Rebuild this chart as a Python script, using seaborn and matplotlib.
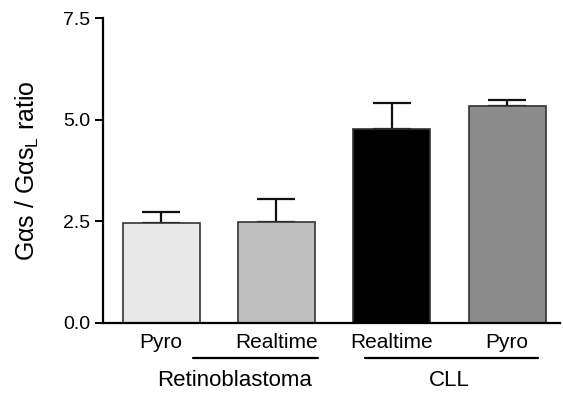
import pandas as pd
import numpy as np
import seaborn as sns
import matplotlib.pyplot as plt
import matplotlib.transforms as mtransforms

samples = ['rb_pyro', 'rb_realtime', 'cll_realtime', 'cll_pyro']
tick_labels = ['Pyro', 'Realtime', 'Realtime', 'Pyro']
ratio = [2.47, 2.49, 4.77, 5.34]
sem = [0.26, 0.56, 0.65, 0.16]
bar_colors = ['#e8e8e8', '#bfbfbf', '#000000', '#8c8c8c']
groups = ['Retinoblastoma', 'CLL']
group_span = [(0.28, 1.36), (1.77, 3.27)]
group_center = [0.64, 2.5]

sns.set_theme(style="ticks")
plt.rcParams['font.family'] = ['Liberation Sans', 'DejaVu Sans']
plt.rcParams['text.color'] = 'black'
plt.rcParams['axes.labelcolor'] = 'black'
plt.rcParams['xtick.color'] = 'black'
plt.rcParams['ytick.color'] = 'black'

df = pd.DataFrame({'sample': samples, 'ratio': ratio})

fig = plt.figure(figsize=(5.63, 4.04), dpi=100)
ax = fig.add_axes([0.183, 0.2005, 0.812, 0.754])

sns.barplot(data=df, x='sample', y='ratio', hue='sample', palette=bar_colors,
            order=samples, hue_order=samples, legend=False, width=0.67,
            edgecolor='#333333', linewidth=1.2, ax=ax, errorbar=None, zorder=2)

# one-sided (upper) error bars
ax.errorbar(np.arange(len(samples)), ratio, yerr=[np.zeros(len(sem)), sem],
            fmt='none', ecolor='#111111', elinewidth=1.6, capsize=14,
            capthick=1.6, zorder=1)

ax.set_xlim(-0.504, 3.46)
ax.set_ylim(0, 7.5)
ax.set_yticks([0, 2.5, 5.0, 7.5])
ax.set_yticklabels(['0.0', '2.5', '5.0', '7.5'], fontsize=14)
ax.set_xticks(range(len(samples)))
ax.set_xticklabels(tick_labels, fontsize=15)
ax.tick_params(axis='x', length=0, pad=7)
ax.tick_params(axis='y', length=6, width=1.4, pad=3)
ax.set_xlabel('')
ax.set_ylabel('Gαs / Gαs$_\\mathregular{L}$ ratio', fontsize=18, labelpad=16)

sns.despine(ax=ax)
for side in ['left', 'bottom']:
    ax.spines[side].set_linewidth(1.6)
    ax.spines[side].set_color('black')

trans = mtransforms.blended_transform_factory(ax.transData, ax.transAxes)
for name, (x0, x1), xc in zip(groups, group_span, group_center):
    ax.plot([x0, x1], [-0.115, -0.115], color='black', lw=1.6,
            transform=trans, clip_on=False)
    ax.text(xc, -0.188, name, fontsize=16, ha='center', va='center',
            transform=trans)

fig.savefig('out.png', dpi=100)
